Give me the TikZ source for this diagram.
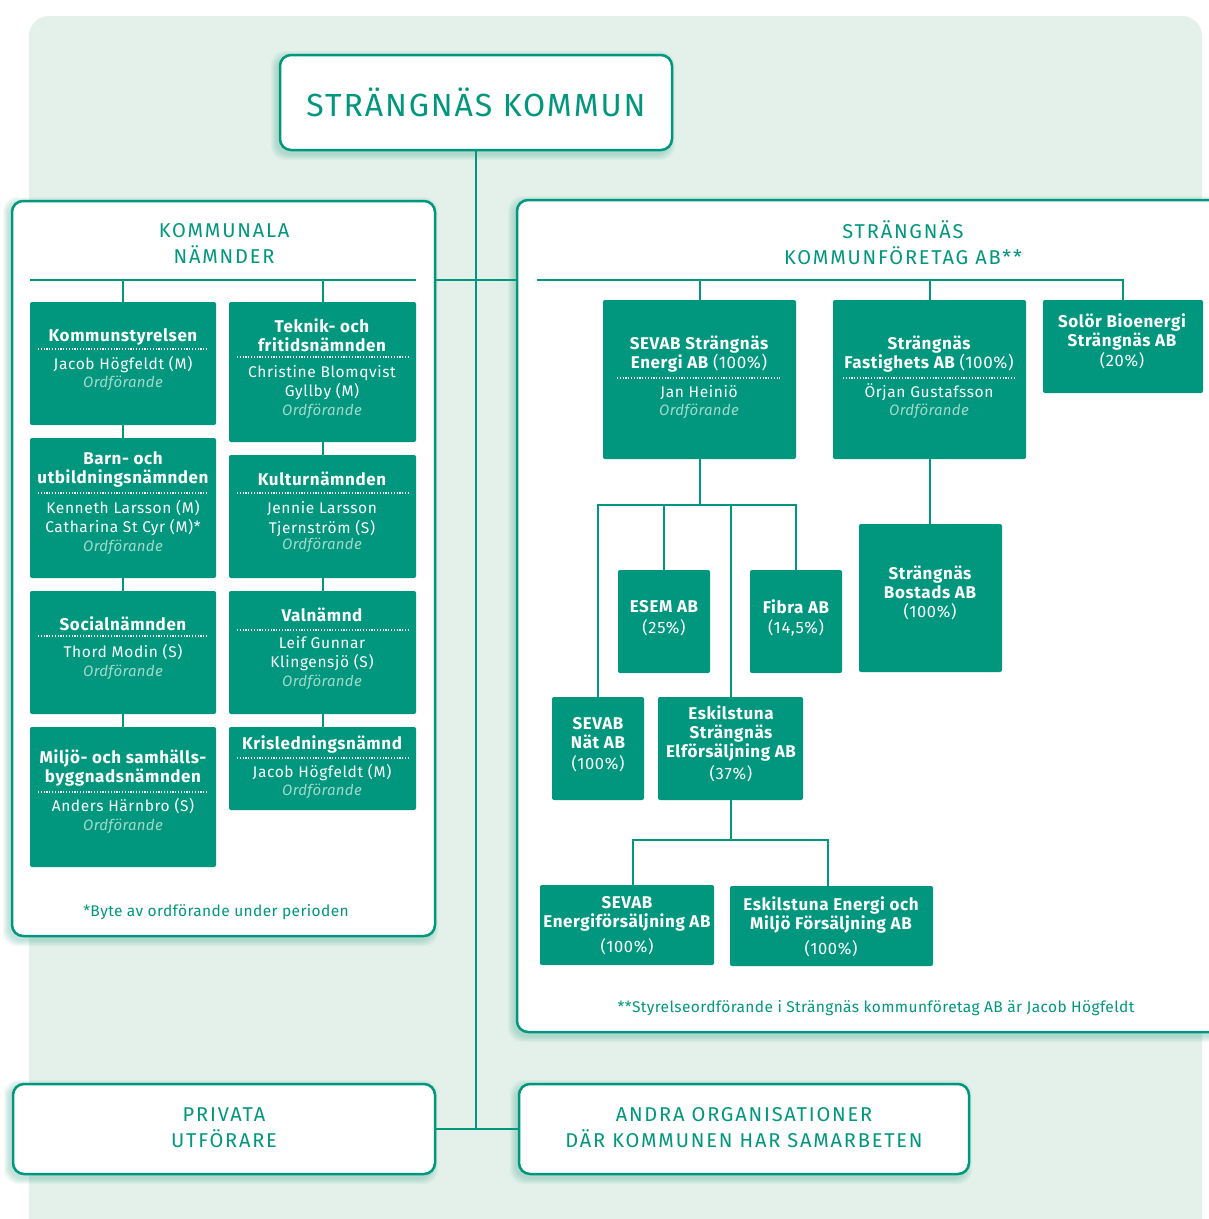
\documentclass[tikz,border=0pt]{standalone}
\usepackage{fontspec}
\setmainfont{Fira Sans}
\usetikzlibrary{calc}
\definecolor{teal1}{HTML}{00977E}
\definecolor{bgg}{HTML}{E3F1EA}
\definecolor{ordf}{HTML}{A3D9CB}
\definecolor{shd}{HTML}{2E9F86}
\tikzset{
 tbox/.style={fill=teal1, rounded corners=2pt, inner sep=0pt, outer sep=0pt, anchor=north west},
 wbox/.style={draw=teal1, line width=2.5pt, fill=white, rounded corners=11pt, inner sep=0pt, outer sep=0pt, anchor=north west},
 conn/.style={draw=teal1, line width=2pt},
 bt/.style={text=white, font=\bfseries\fontsize{17}{19}\selectfont\addfontfeatures{LetterSpace=3.5}, align=center, inner sep=0pt, yshift=-1.5pt},
 nm/.style={text=white, font=\fontsize{15.5}{19.5}\selectfont\addfontfeatures{LetterSpace=4}, align=center, inner sep=0pt, yshift=-1.5pt},
 pc/.style={text=white, font=\fontsize{16.5}{19.5}\selectfont\addfontfeatures{LetterSpace=4}, align=center, inner sep=0pt, yshift=-1.5pt},
 of/.style={text=ordf, font=\itshape\fontsize{15}{19}\selectfont\addfontfeatures{LetterSpace=2}, inner sep=0pt, yshift=-1.5pt},
 sepline/.style={draw=white, line width=1.2pt, dash pattern=on 1.2pt off 1.6pt},
 ptitle/.style={text=teal1, font=\fontsize{20}{26}\selectfont\addfontfeatures{LetterSpace=9}, align=center, inner sep=0pt},
 fnote/.style={text=teal1, font=\fontsize{15.5}{17}\selectfont\addfontfeatures{LetterSpace=2.5}, inner sep=0pt},
}
\newcommand\tealbox[5]{\node[tbox, minimum width={#4-#2}, minimum height={#5-#3}] (#1) at (#2,#3) {};}
\newcommand\whitebox[5]{\node[wbox, minimum width={#4-#2}, minimum height={#5-#3}] (#1) at (#2,#3) {};}
\newcommand\softsh[4]{\foreach \k in {1,...,6}{\fill[shd, opacity=0.05, rounded corners=14pt] ({#1-3-\k},{#2+2-\k}) rectangle ({#3-3+\k},{#4+4+\k});}}
\begin{document}
\begin{tikzpicture}[x=1pt,y=-1pt]
\useasboundingbox (0,0) rectangle (1209,1219);
\fill[white] (0,0) rectangle (1209,1219);
\fill[bgg, rounded corners=20pt] (29,16) rectangle (1202,1260);
% shadows
\softsh{280}{55}{672}{150}
\softsh{12}{201}{435}{936}
\softsh{517}{200}{1230}{1032}
\softsh{13}{1084}{435}{1174}
\softsh{519}{1084}{969}{1174}
% top box
\whitebox{top}{280}{55}{672}{150}
\node[text=teal1, font=\fontsize{32}{36}\selectfont\addfontfeatures{LetterSpace=6}, inner sep=0pt] (topt) at (476,102.5) {STRÄNGNÄS KOMMUN};
% bottom boxes
\whitebox{pu}{13}{1084}{435}{1174}
\whitebox{ao}{519}{1084}{969}{1174}
\node[ptitle] (put) at (224,1128) {PRIVATA\\UTFÖRARE};
\node[ptitle] (aot) at (744,1128) {ANDRA ORGANISATIONER\\DÄR KOMMUNEN HAR SAMARBETEN};
% trunk
\draw[conn] (top.south) -- (top.south |- pu.east);
\draw[conn] (pu.east) -- (ao.west);
% panels
\whitebox{lp}{12}{201}{435}{936}
\whitebox{rp}{517}{200}{1230}{1032}
\node[ptitle] (lpt) at (224,243) {KOMMUNALA\\NÄMNDER};
\node[ptitle] (rpt) at (903,243) {STRÄNGNÄS\\KOMMUNFÖRETAG AB**};
% buses
\coordinate (lbL) at (30,280);
\coordinate (lbR) at (416,280);
\draw[conn] (lbL) -- (lbR);
\draw[conn] (lp.east |- lbL) -- (rp.west |- lbL);
\coordinate (rbL) at (537,280);
% left boxes
\tealbox{ks}{30}{302}{216}{425}
\tealbox{bun}{30}{438}{216}{578}
\tealbox{sn}{30}{591}{216}{714}
\tealbox{msn}{30}{727}{216}{867}
\tealbox{tfn}{229}{302}{416}{442}
\tealbox{kn}{229}{455}{416}{578}
\tealbox{vn}{229}{591}{416}{714}
\tealbox{kln}{229}{727}{416}{810}
\draw[conn] (ks.north |- lbL) -- (ks.north);
\draw[conn] (ks.south) -- (bun.north);
\draw[conn] (bun.south) -- (sn.north);
\draw[conn] (sn.south) -- (msn.north);
\draw[conn] (tfn.north |- lbL) -- (tfn.north);
\draw[conn] (tfn.south) -- (kn.north);
\draw[conn] (kn.south) -- (vn.north);
\draw[conn] (vn.south) -- (kln.north);
% left texts
\node[bt] (ks-t) at (123,335) {Kommunstyrelsen};
\draw[sepline] (38,349) -- (208,349);
\node[nm] (ks-n) at (123,363) {Jacob Högfeldt (M)};
\node[of] (ks-o) at (123,382) {Ordförande};
\node[bt] (tfn-t) at (322,333.5) {Teknik- och\\fritidsnämnden};
\draw[sepline] (237,357) -- (408,357);
\node[nm] (tfn-n) at (322,381) {Christine Blomqvist\\Gyllby (M)};
\node[of] (tfn-o) at (322,410) {Ordförande};
\node[bt] (bun-t) at (123,467.5) {Barn- och\\utbildningsnämnden};
\draw[sepline] (38,493) -- (208,493);
\node[nm] (bun-n) at (123,516.5) {Kenneth Larsson (M)\\Catharina St Cyr (M)*};
\node[of] (bun-o) at (123,546) {Ordförande};
\node[bt] (kn-t) at (322,477) {Kulturnämnden};
\draw[sepline] (237,493) -- (408,493);
\node[nm] (kn-n) at (322,517.5) {Jennie Larsson\\Tjernström (S)};
\node[of] (kn-o) at (322,544) {Ordförande};
\node[bt] (sn-t) at (123,622) {Socialnämnden};
\draw[sepline] (38,636) -- (208,636);
\node[nm] (sn-n) at (123,651) {Thord Modin (S)};
\node[of] (sn-o) at (123,671) {Ordförande};
\node[bt] (vn-t) at (322,613) {Valnämnd};
\draw[sepline] (237,630) -- (408,630);
\node[nm] (vn-n) at (322,652) {Leif Gunnar\\Klingensjö (S)};
\node[of] (vn-o) at (322,681) {Ordförande};
\node[bt] (msn-t) at (123,766.5) {Miljö- och samhälls-\\byggnadsnämnden};
\draw[sepline] (38,792) -- (208,792);
\node[nm] (msn-n) at (123,805) {Anders Härnbro (S)};
\node[of] (msn-o) at (123,825) {Ordförande};
\node[bt] (kln-t) at (322,743) {Krisledningsnämnd};
\draw[sepline] (237,758) -- (408,758);
\node[nm] (kln-n) at (322,771) {Jacob Högfeldt (M)};
\node[of] (kln-o) at (322,790) {Ordförande};
\node[fnote] (lfn) at (216,912) {*Byte av ordförande under perioden};
% right boxes
\tealbox{sev}{603}{300}{796}{459}
\tealbox{sfa}{833}{300}{1026}{459}
\tealbox{sol}{1043}{300}{1203}{393}
\tealbox{esem}{618}{570}{710}{673}
\tealbox{fib}{750}{570}{842}{673}
\tealbox{sba}{859}{524}{1002}{672}
\tealbox{snat}{552}{697}{644}{800}
\tealbox{ese}{658}{697}{803}{800}
\tealbox{sef}{540}{885}{714}{965}
\tealbox{eem}{730}{886}{933}{966}
\draw[conn] (rbL) -- (rbL -| sol.north) -- (sol.north);
\draw[conn] (sev.north |- rbL) -- (sev.north);
\draw[conn] (sfa.north |- rbL) -- (sfa.north);
\coordinate (sb) at (699.5,505);
\draw[conn] (sev.south) -- (sb);
\draw[conn] (snat.north) -- (snat.north |- sb) -- (fib.north |- sb) -- (fib.north);
\draw[conn] (esem.north |- sb) -- (esem.north);
\draw[conn] (ese.north |- sb) -- (ese.north);
\draw[conn] (sfa.south) -- (sfa.south |- sba.north);
\coordinate (d1) at (633,840);
\coordinate (d2) at (828,840);
\draw[conn] (ese.south) -- (ese.south |- d1);
\draw[conn] (d1 |- sef.north) -- (d1) -- (d2) -- (d2 |- eem.north);
% right texts
\node[bt] (sev-t) at (699,353) {SEVAB Strängnäs\\Energi AB {\mdseries(100\%)}};
\draw[sepline] (617,378) -- (780,378);
\node[nm] (sev-n) at (699,391) {Jan Heiniö};
\node[of] (sev-o) at (699,410) {Ordförande};
\node[bt] (sfa-t) at (929,353) {Strängnäs\\Fastighets AB {\mdseries(100\%)}};
\draw[sepline] (843,378) -- (1015,378);
\node[nm] (sfa-n) at (929,391) {Örjan Gustafsson};
\node[of] (sfa-o) at (929,410) {Ordförande};
\node[bt] (sol-t) at (1122,330.5) {Solör Bioenergi\\Strängnäs AB};
\node[pc] (sol-p) at (1122,359) {(20\%)};
\node[bt] (esem-t) at (664,605) {ESEM AB};
\node[pc] (esem-p) at (664,626) {(25\%)};
\node[bt] (fib-t) at (796,605) {Fibra AB};
\node[pc] (fib-p) at (796,626) {(14,5\%)};
\node[bt] (sba-t) at (930,580.5) {Strängnäs\\Bostads AB};
\node[pc] (sba-p) at (930,610) {(100\%)};
\node[bt] (snat-t) at (598,732) {SEVAB\\Nät AB};
\node[pc] (snat-p) at (598,762) {(100\%)};
\node[bt] (ese-t) at (731,732) {Eskilstuna\\Strängnäs\\Elförsäljning AB};
\node[pc] (ese-p) at (731,772) {(37\%)};
\node[bt] (sef-t) at (627,912.5) {SEVAB\\Energiförsäljning AB};
\node[pc] (sef-p) at (627,945) {(100\%)};
\node[bt] (eem-t) at (831,913.5) {Eskilstuna Energi och\\Miljö Försäljning AB};
\node[pc] (eem-p) at (831,947) {(100\%)};
\node[fnote] (rfn) at (876,1008) {**Styrelseordförande i Strängnäs kommunföretag AB är Jacob Högfeldt};
\end{tikzpicture}
\end{document}
